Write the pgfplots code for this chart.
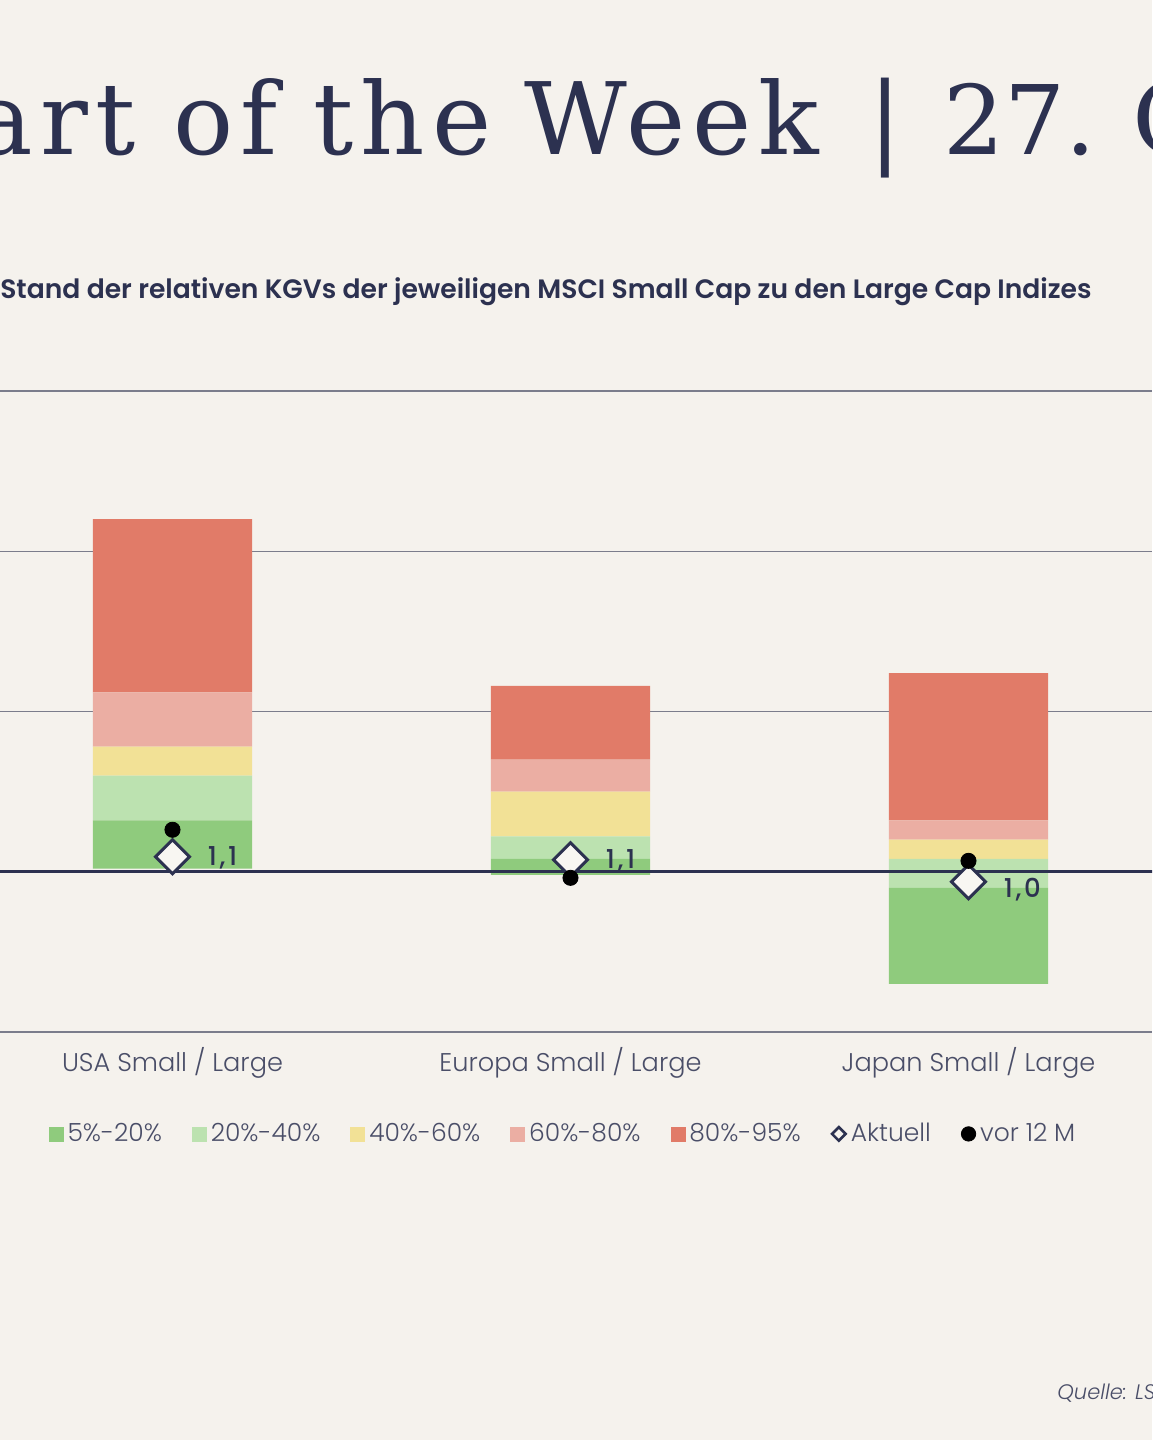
\documentclass[border=0pt]{standalone}
\usepackage{pgfplots}
\pgfplotsset{compat=1.18}
\usepackage{fontspec}
\setmainfont{Poppins}
\newfontfamily\titlefont{DejaVu Serif}[LetterSpace=7]
\newfontfamily\titlefontplain{DejaVu Serif}
\newfontfamily\lightfont{Poppins Light}
\newfontfamily\semifont{Poppins SemiBold}
\newfontfamily\medfont{Poppins Medium}[LetterSpace=10]
\definecolor{bg}{HTML}{F5F2ED}
\definecolor{navy}{HTML}{2C3150}
\definecolor{labc}{HTML}{4A4E68}
\definecolor{gridc}{HTML}{7B7D8C}
\definecolor{cred}{HTML}{E17B68}
\definecolor{cpink}{HTML}{EBAEA3}
\definecolor{cyel}{HTML}{F2E196}
\definecolor{clg}{HTML}{BCE2B0}
\definecolor{cg}{HTML}{8FCB7D}
\definecolor{mfill}{HTML}{F8F6F2}
\begin{document}
\begin{tikzpicture}
\useasboundingbox (0,0) rectangle (576pt,720pt);
\fill[bg] (0,0) rectangle (576pt,720pt);
\begin{scope}
\clip (0,0) rectangle (576pt,720pt);
\tikzset{ttl/.style={inner sep=0, text=navy, font=\titlefont\fontsize{50}{60}\selectfont}}
\node[ttl, anchor=base east] at (68pt,642.5pt) {Chart};
\node[ttl, anchor=base west] at (86.5pt,642.5pt) {of};
\node[ttl, anchor=base west] at (156.5pt,642.5pt) {the};
\node[ttl, anchor=base west] at (262pt,642.5pt) {Week};
\node[inner sep=0, text=navy, font=\titlefontplain\fontsize{50}{60}\selectfont, anchor=base] at (442.5pt,642.5pt) {|};
\node[inner sep=0, text=navy, font=\titlefontplain\fontsize{48}{60}\selectfont, anchor=base west] at (471.5pt,642.5pt) {27.};
\node[ttl, anchor=base west] at (566pt,642.5pt) {Oktober 2023};
\node[anchor=base east, inner sep=0, text=navy, font=\semifont\fontsize{13.3}{15}\selectfont] at (546pt,570.5pt) {Stand der relativen KGVs der jeweiligen MSCI Small Cap zu den Large Cap Indizes};
\node[anchor=base west, inner sep=0, text=labc, font=\lightfont\itshape\fontsize{10.5}{13}\selectfont] at (528.5pt,20pt) {Quelle: LSEG Datastream, Stand: 27.10.2023};
\end{scope}
\begin{axis}[at={(0pt,204pt)}, anchor=south west, scale only axis,
  width=576pt, height=320.5pt,
  xmin=-0.4334, xmax=2.4611, ymin=0.5, ymax=2.5,
  ybar stacked, bar width=0.4,
  ytick={0.5,1.5,2,2.5}, yticklabels={},
  ymajorgrids, grid style={gridc, line width=0.6pt},
  axis line style={draw=none}, major tick length=0pt,
  xtick={0,1,2},
  xticklabels={USA Small / Large, Europa Small / Large, Japan Small / Large},
  xticklabel style={font=\lightfont\fontsize{12.8}{14}\selectfont, text=labc, anchor=center, yshift=-15.5pt},
]
\addplot[draw=none, fill=none] coordinates {(0,1.01) (1,0.99) (2,0.65)};
\addplot[draw=none, fill=cg] coordinates {(0,0.15) (1,0.05) (2,0.30)};
\addplot[draw=none, fill=clg] coordinates {(0,0.14) (1,0.07) (2,0.09)};
\addplot[draw=none, fill=cyel] coordinates {(0,0.09) (1,0.14) (2,0.06)};
\addplot[draw=none, fill=cpink] coordinates {(0,0.17) (1,0.10) (2,0.06)};
\addplot[draw=none, fill=cred] coordinates {(0,0.54) (1,0.23) (2,0.46)};
\end{axis}
\begin{axis}[at={(0pt,204pt)}, anchor=south west, scale only axis,
  width=576pt, height=320.5pt,
  xmin=-0.4334, xmax=2.4611, ymin=0.5, ymax=2.5,
  hide axis,
  legend style={at={(0.4896,-0.159)}, anchor=center, draw=none, fill=none,
    font=\lightfont\fontsize{12.5}{14}\selectfont, text=labc,
    /tikz/every even column/.append style={column sep=13pt}},
  legend columns=-1,
]
\addlegendimage{legend image code/.code={\fill[cg] (0pt,-3.5pt) rectangle (7pt,3.5pt);}}
\addlegendimage{legend image code/.code={\fill[clg] (0pt,-3.5pt) rectangle (7pt,3.5pt);}}
\addlegendimage{legend image code/.code={\fill[cyel] (0pt,-3.5pt) rectangle (7pt,3.5pt);}}
\addlegendimage{legend image code/.code={\fill[cpink] (0pt,-3.5pt) rectangle (7pt,3.5pt);}}
\addlegendimage{legend image code/.code={\fill[cred] (0pt,-3.5pt) rectangle (7pt,3.5pt);}}
\addplot[navy, line width=1.6pt, forget plot] coordinates {(-1,1) (3,1)};
\addplot[only marks, mark=square*, mark size=6pt,
  mark options={rotate=45, fill=mfill, draw=navy, line width=1.5pt},
  legend image code/.code={\draw[navy, line width=1.3pt, fill=bg] (0.5pt,0pt) -- (3.9pt,3.4pt) -- (7.3pt,0pt) -- (3.9pt,-3.4pt) -- cycle;}]
  coordinates {(0,1.047) (1,1.0375) (2,0.969)};
\addplot[only marks, mark=*, mark size=3.8pt, black,
  legend image code/.code={\fill[black] (3.5pt,0pt) circle (3.6pt);}]
  coordinates {(0,1.131) (1,0.981) (2,1.034)};
\addplot[draw=none, mark=none, forget plot, nodes near coords, point meta=explicit symbolic,
  nodes near coords style={anchor=west, xshift=17.5pt, inner sep=0pt, text=navy, font=\medfont\fontsize{13}{14}\selectfont}]
  coordinates {(0,1.04375) [{1,1}] (1,1.034) [{1,1}] (2,0.94375) [{1,0}]};
\legend{5\%-20\%, 20\%-40\%, 40\%-60\%, 60\%-80\%, 80\%-95\%, Aktuell, vor 12 M}
\end{axis}
\end{tikzpicture}
\end{document}
